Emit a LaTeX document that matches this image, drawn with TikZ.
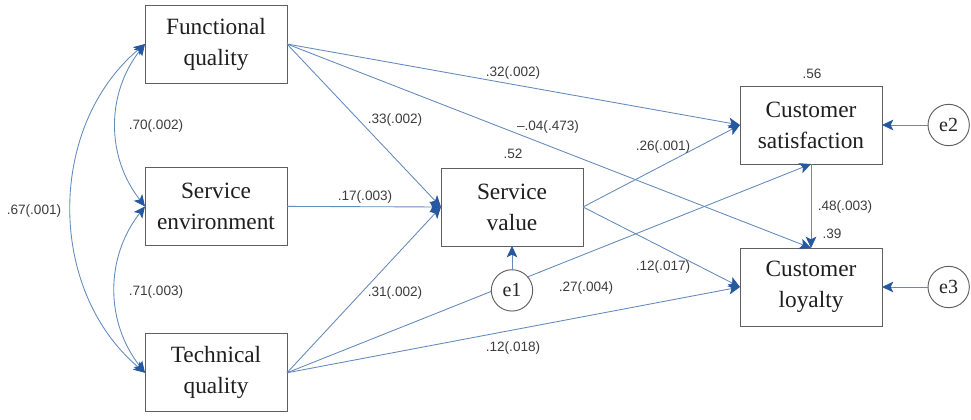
\documentclass[tikz,border=0pt]{standalone}
\usepackage{fontspec}
\setmainfont{Liberation Serif}
\newfontfamily\numfont{Liberation Sans}
\usetikzlibrary{arrows.meta,positioning}
\definecolor{pathblue}{RGB}{100,138,188}
\definecolor{tipblue}{RGB}{38,88,160}
\definecolor{boxgray}{RGB}{95,95,95}
\definecolor{numgray}{RGB}{60,60,60}

\begin{document}
\begin{tikzpicture}[x=0.75pt,y=-0.75pt,every node/.style={outer sep=0pt},
    var/.style={draw=boxgray,line width=0.7pt,fill=white,minimum width=106.5pt,
    minimum height=58.5pt,align=center,text=black!88,
    font=\fontsize{17.5}{23.2}\selectfont},
    err/.style={circle,draw=boxgray,line width=0.7pt,fill=white,minimum size=31pt,
    inner sep=0pt,text=black!85,font=\fontsize{15}{18}\selectfont},
    lbl/.style={inner sep=0pt,text=numgray,font=\numfont\fontsize{10.2}{12}\selectfont},
    arr/.style={draw=pathblue,line width=0.65pt,
    -{Stealth[length=8.5pt,width=8pt,inset=2pt,color=tipblue]}},
    cov/.style={arr,{Stealth[length=8.5pt,width=8pt,inset=2pt,color=tipblue]}-{Stealth[length=8.5pt,width=8pt,inset=2pt,color=tipblue]}}]
  \useasboundingbox (0,0) rectangle (971,420);

  \node[var] (fq) at (216,44) {Functional\\quality};
  \node[var,below=63.3pt of fq] (se) {Service\\environment};
  \node[var,below=66.3pt of se] (tq) {Technical\\quality};
  \node[var] (sv) at (512,207) {Service\\value};
  \node[var] (cs) at (811,125) {Customer\\satisfaction};
  \node[var,below=63pt of cs] (cl) {Customer\\loyalty};

  % correlations
  \draw[cov] (fq.west) to[bend right=38] (se.west);
  \draw[cov] (se.west) to[bend right=38] (tq.west);
  \draw[cov] (fq.west) to[bend right=50] (tq.west);

  % structural paths
  \foreach \a/\b in {fq.east/sv.west, se.east/sv.west, tq.east/sv.west,
      fq.east/cs.west, fq.east/cl.north, tq.east/cs.south, tq.east/cl.west,
      sv.east/cs.west, sv.east/cl.west, cs.south/cl.north}
    \draw[arr] (\a) -- (\b);

  % residuals
  \node[err,below=17.8pt of sv] (e1) {e1};
  \node[err,right=34.5pt of cs] (e2) {e2};
  \node[err,right=34.5pt of cl] (e3) {e3};
  \draw[arr] (e1) -- (sv);
  \draw[arr] (e2) -- (cs);
  \draw[arr] (e3) -- (cl);

  % estimates
  \foreach \p/\t [count=\i] in {{156,126}/{.70(.002)}, {156,292}/{.71(.003)},
      {34,211}/{.67(.001)}, {513,73}/{.32(.002)}, {395,120}/{.33(.002)},
      {548,127}/{\textendash.04(.473)}, {513,154}/{.52}, {365,197}/{.17(.003)},
      {663,147}/{.26(.001)}, {812,74}/{.56}, {845,207}/{.48(.003)},
      {832,234}/{.39}, {395,293}/{.31(.002)}, {586,288}/{.27(.004)},
      {663,267}/{.12(.017)}, {513,348}/{.12(.018)}}
    \node[lbl] (w\i) at (\p) {\t};
\end{tikzpicture}
\end{document}
